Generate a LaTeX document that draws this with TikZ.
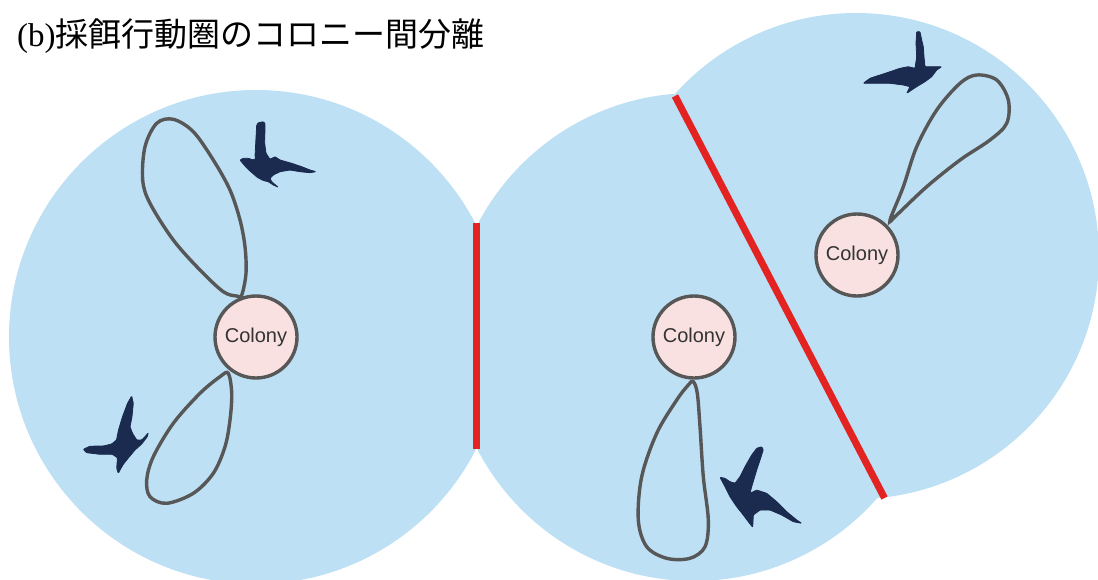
\documentclass[tikz,border=0pt]{standalone}
\usepackage{fontspec}
\setmainfont{Liberation Serif}
\setsansfont{Liberation Sans}
\newfontfamily\cjkfont{Noto Sans CJK JP}
\definecolor{rangeblue}{HTML}{BDE0F4}
\definecolor{colonypink}{HTML}{F9E1E1}
\definecolor{pathgray}{HTML}{575757}
\definecolor{borderred}{HTML}{E32222}
\definecolor{birdnavy}{HTML}{1B2A4F}
\begin{document}
\begin{tikzpicture}[x=1pt,y=-1pt,
  rangefill/.style={fill=rangeblue},
  borderline/.style={draw=borderred, line width=7pt},
  tripline/.style={draw=pathgray, line width=3.4pt},
  colonynode/.style={circle, draw=pathgray, line width=3.4pt, fill=colonypink,
    minimum size=82pt, inner sep=0pt, text=black!80,
    font=\sffamily\fontsize{20}{20}\selectfont},
  birdshape/.style={fill=birdnavy, draw=birdnavy, line width=0.8pt,
    line join=round, rounded corners=0.8pt}]
\useasboundingbox (0,0) rectangle (1098,579);

% foraging ranges
\begin{scope}
  \clip (0,0) rectangle (1098,579);
  \fill[rangefill] (256,337) circle[radius=247];
  \fill[rangefill] (694,337) circle[radius=244];
  \fill[rangefill] (856,256) circle[radius=243];
\end{scope}

% boundaries between ranges
\coordinate (bA1) at (476.5,223);
\coordinate (bA2) at (476.5,449);
\coordinate (bB1) at (675,96);
\coordinate (bB2) at (884.5,498);
\draw[borderline] (bA1) -- (bA2);
\draw[borderline] (bB1) -- (bB2);

% foraging trips
\draw[tripline] plot[smooth cycle, tension=0.55] coordinates {
  (241.7,295) (246,273.3) (245,246.7) (240,220) (230,190) (213.3,160)
  (193.3,131.7) (173.3,119.3) (156.7,123.3) (145,146.7) (142.7,180)
  (150,203.3) (173.3,240) (200,270) (223.3,291.7) (236.7,296)};
\draw[tripline] plot[smooth cycle, tension=0.55] coordinates {
  (228.3,373.3) (231.7,393.3) (230,420) (225,446.7) (213.3,473.3)
  (193.3,493.3) (166.7,503.3) (150,496.7) (146.7,480) (153.3,456.7)
  (173.3,423.3) (200,393.3) (220,376.7)};
\draw[tripline] plot[smooth cycle, tension=0.55] coordinates {
  (693.3,381.7) (697.3,393.3) (700,426.7) (703.3,476.7) (708.3,520)
  (705,546.7) (690,558.3) (666.7,558.3) (646.7,546.7) (638.3,520)
  (641.7,476.7) (656.7,433.3) (676.7,400) (688.3,385)};
\draw[tripline] plot[smooth cycle, tension=0.55] coordinates {
  (890,220) (903.3,186.7) (916.7,146.7) (936.7,110) (960,83.3)
  (976.7,75) (996.7,80) (1008.3,100) (1006.7,123.3) (990,140)
  (960,160) (926.7,186.7) (896.7,215)};

% colonies
\node[colonynode] (c1) at (256,337) {Colony};
\node[colonynode] (c2) at (694,337) {Colony};
\node[colonynode] (c3) at (857,255) {Colony};

% seabirds
\fill[birdshape] (263.3,121.7) -- (265,123.3) -- (264.7,143.3) -- (266,153.3)
  -- (270,159.3) -- (275,156.7) -- (280,160) -- (291.7,163.3) -- (301.7,166.7)
  -- (310,170) -- (316,171.7) -- (310,172.7) -- (300,171.7) -- (290,170)
  -- (280,171.7) -- (273.3,175) -- (270,178.3) -- (271.7,181.7) -- (276.7,186)
  -- (278.3,187.3) -- (273.3,185) -- (268.3,181.7) -- (263.3,180.5)
  -- (257.5,177.5) -- (250,171) -- (245,166) -- (240,160) -- (243.3,158.3)
  -- (248.3,158.3) -- (253.3,160) -- (256,158.3) -- (255,156.7)
  -- (256.7,125) -- (258.3,122.7) -- cycle;
\fill[birdshape] (131.7,396) -- (133.3,403.3) -- (132,416.7) -- (130,426.7)
  -- (132.5,433.3) -- (136.7,440) -- (141.7,440) -- (145,436.7) -- (148.3,432.7)
  -- (147.3,436.7) -- (141.7,444) -- (135,450) -- (128.3,458)
  -- (123.3,464.3) -- (120,470) -- (118.3,473.3) -- (116.7,468.3)
  -- (117.5,457.7) -- (112.3,454.3) -- (100,454.3) -- (86.7,452.7)
  -- (83.3,449.3) -- (90,446.2) -- (103.3,446) -- (111.7,444) -- (116.5,440)
  -- (118.5,430) -- (122.5,416.7) -- (127.5,403.3) -- cycle;
\fill[birdshape] (761.7,446.7) -- (763.3,450) -- (756.7,470) -- (751.7,486.7)
  -- (750,493.3) -- (756.7,490) -- (766.7,493.3) -- (776.7,501.7)
  -- (786.7,511.7) -- (796.7,520) -- (801.7,523.3) -- (793.3,521.7)
  -- (781.7,515) -- (770,510) -- (760,510) -- (753.3,515) -- (752.7,527.3)
  -- (748.3,521.7) -- (743.3,515) -- (736.7,506.7) -- (730,496.7)
  -- (725,486.7) -- (720,477.3) -- (725,478.3) -- (730,481.7) -- (735,483.3)
  -- (740,476.7) -- (745,466.7) -- (751.7,455) -- (756.7,448.3) -- cycle;
\fill[birdshape] (916.7,31.7) -- (920,31.7) -- (921.7,40) -- (923.3,46.7)
  -- (924,56.7) -- (925,66.7) -- (933.3,66.7) -- (941.7,66.7) -- (936.7,70)
  -- (931.7,76.7) -- (925,81.7) -- (916.7,86.7) -- (906.7,93.3) -- (910,86.7)
  -- (903.3,85) -- (890,83.3) -- (876.7,83.3) -- (863.3,83.3) -- (870,78.3)
  -- (880,75) -- (890,71.7) -- (900,68.3) -- (908.3,66.7) -- (915,68.3)
  -- (916.7,56.7) -- (916,43.3) -- cycle;

% title
\node[anchor=base west, inner sep=0pt] (title) at (17,46)
  {\fontsize{33}{40}\selectfont (b)\cjkfont 採餌行動圏のコロニー間分離};
\end{tikzpicture}
\end{document}
